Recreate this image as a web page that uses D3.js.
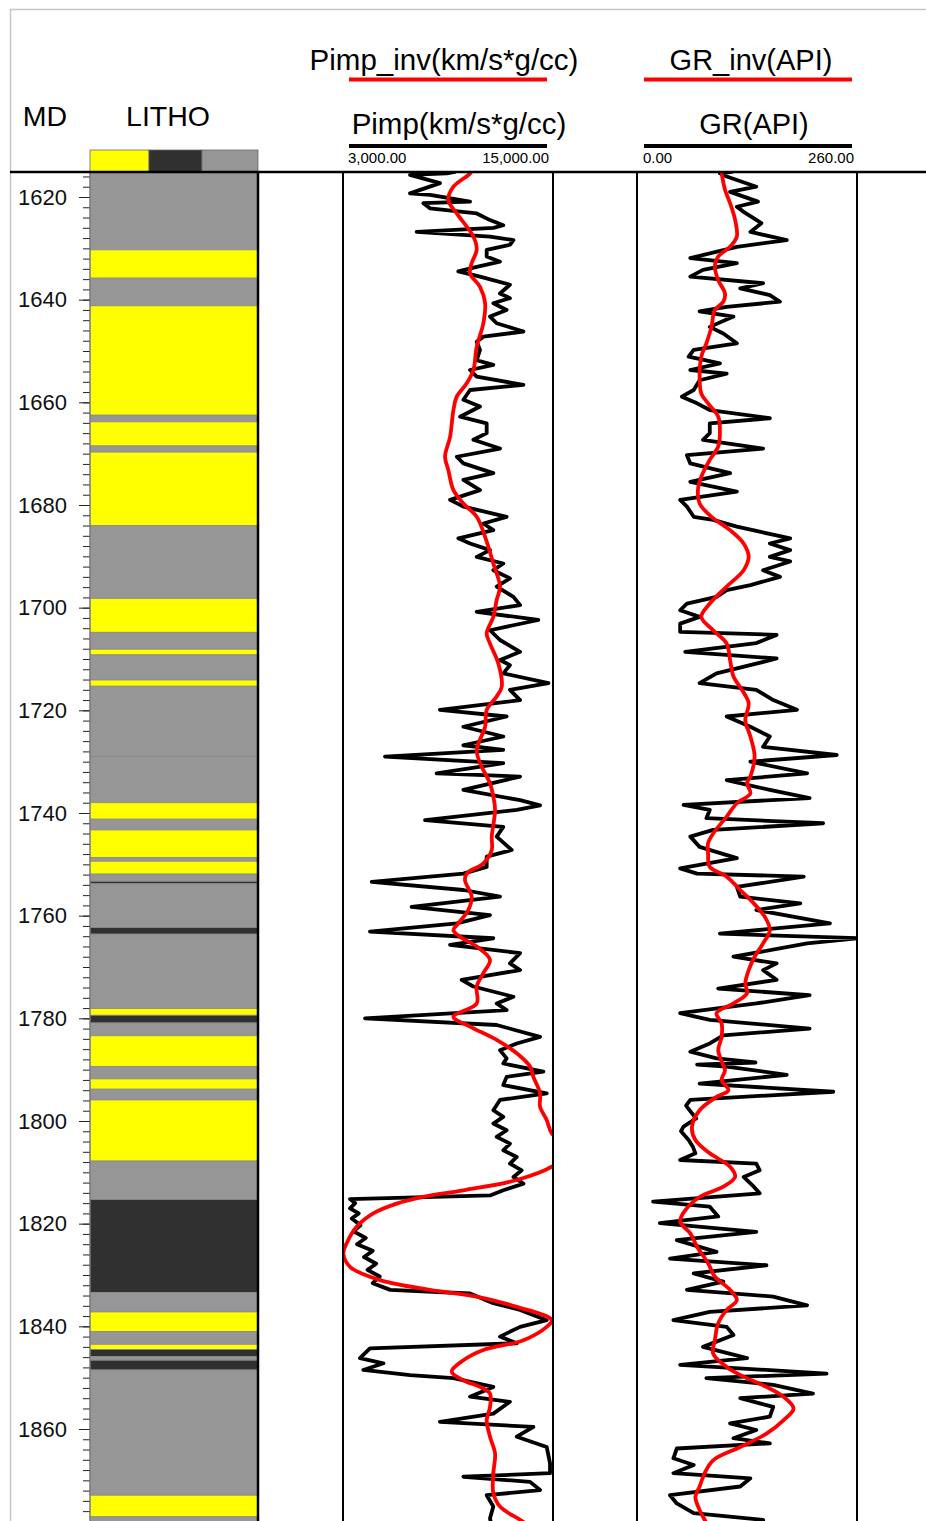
<!DOCTYPE html>
<html>
<head>
<meta charset="utf-8">
<script src="https://cdn.jsdelivr.net/npm/d3@7"></script>
<style>
  body { margin: 0; background: #fff; }
  text { font-family: "Liberation Sans", Arial, sans-serif; }
</style>
</head>
<body>
<svg id="chart" width="926" height="1521"></svg>
<script>
// depth labels (MD, metres)
const mdLabels = [1620, 1640, 1660, 1680, 1700, 1720, 1740, 1760, 1780, 1800, 1820, 1840, 1860];
const mdMinorStep = 2;

// lithology: [top depth, code]  S = sand, H = shale, C = coal
const litho = [
  [1614, "H"], [1630.3, "S"], [1635.8, "H"], [1641.2, "S"], [1662.5, "H"], [1663.8, "S"],
  [1668.5, "H"], [1669.7, "S"], [1684.0, "H"], [1698.2, "S"], [1704.8, "H"], [1708.1, "S"],
  [1709.2, "H"], [1714.1, "S"], [1715.3, "H"], [1729.0, "H"], [1738.0, "S"], [1741.2, "H"],
  [1743.3, "S"], [1748.7, "H"], [1749.4, "S"], [1751.9, "H"], [1753.3, "C"], [1753.8, "H"],
  [1762.3, "C"], [1763.6, "H"], [1778.1, "S"], [1779.4, "C"], [1780.9, "H"], [1783.4, "S"],
  [1789.4, "H"], [1791.8, "S"], [1793.8, "H"], [1795.9, "S"], [1807.8, "H"], [1815.3, "C"],
  [1833.4, "H"], [1837.2, "S"], [1841.0, "H"], [1843.5, "S"], [1844.5, "C"], [1845.9, "H"],
  [1846.6, "C"], [1848.5, "H"], [1872.9, "S"], [1877.1, "H"]
];
const lithoBase = 1880;
const lithoLegend = ["S", "C", "H"];

// P-impedance log [depth, km/s*g/cc]
const pimp = [
  [1615.1, 9400], [1615.4, 8920], [1615.7, 6830], [1617.3, 8540], [1619.3, 6830], [1619.6, 7970],
  [1620.9, 10260], [1621.2, 7590], [1622.2, 7970], [1623.2, 10640], [1624.5, 11400], [1625.5, 12160],
  [1626.0, 11600], [1626.8, 7210], [1627.7, 11400], [1628.4, 12740], [1629.3, 12540], [1630.3, 11210],
  [1631.6, 11210], [1632.6, 11970], [1633.6, 10640], [1634.5, 9590], [1635.5, 10830], [1637.1, 12540],
  [1638.8, 11970], [1639.7, 12540], [1640.7, 11590], [1642.0, 12350], [1643.3, 11400], [1644.6, 11780],
  [1646.2, 13310], [1647.2, 11020], [1648.2, 10640], [1649.8, 10830], [1651.8, 10640], [1652.7, 11590],
  [1653.7, 10260], [1655.0, 10640], [1656.6, 13310], [1657.6, 10260], [1659.5, 9880], [1660.8, 10830],
  [1662.8, 9690], [1664.1, 11210], [1666.0, 11210], [1667.3, 10450], [1669.0, 11970], [1670.6, 9500],
  [1671.9, 9880], [1673.8, 11590], [1675.1, 9880], [1677.1, 10830], [1679.0, 9120], [1680.3, 9880],
  [1682.3, 12350], [1683.6, 11020], [1684.9, 11590], [1686.5, 9590], [1687.5, 10260], [1688.8, 11400],
  [1690.1, 10640], [1691.4, 12160], [1692.7, 11590], [1694.3, 12540], [1695.9, 11780], [1697.9, 12740],
  [1699.5, 13120], [1700.8, 10640], [1702.4, 14160], [1704.4, 11400], [1706.3, 11970], [1708.6, 13120],
  [1710.2, 11970], [1711.2, 12540], [1712.8, 12160], [1714.7, 14740], [1716.0, 12540], [1718.0, 13120],
  [1719.9, 8540], [1721.2, 12350], [1723.2, 9880], [1725.1, 12160], [1726.8, 9880], [1727.7, 12160],
  [1729.0, 5400], [1730.3, 12160], [1732.3, 8350], [1732.9, 13120], [1735.5, 9880], [1737.5, 13120],
  [1738.5, 14260], [1739.4, 12930], [1741.4, 7690], [1742.7, 12160], [1744.6, 11780], [1747.2, 12640],
  [1748.5, 11210], [1750.5, 11210], [1751.8, 9880], [1753.4, 4640], [1755.0, 9880], [1756.3, 11970],
  [1758.3, 6920], [1759.9, 11400], [1761.5, 9500], [1763.1, 4540], [1764.4, 11590], [1765.7, 9120],
  [1767.3, 13120], [1769.3, 12540], [1770.6, 13120], [1772.5, 9780], [1773.8, 10450], [1775.8, 12740],
  [1777.1, 11780], [1778.4, 12350], [1780.0, 4260], [1781.3, 11780], [1783.6, 14260], [1784.9, 12930],
  [1786.2, 11970], [1787.8, 12350], [1788.8, 12160], [1790.4, 14450], [1791.4, 12350], [1793.0, 12160],
  [1794.6, 14640], [1795.9, 11970], [1797.9, 11590], [1799.2, 12160], [1800.5, 11590], [1801.8, 12350],
  [1803.1, 11780], [1804.4, 12540], [1805.7, 12160], [1807.0, 12930], [1808.3, 12540], [1809.6, 13210],
  [1810.9, 12740], [1812.2, 13310], [1813.5, 12160], [1814.5, 11400], [1815.2, 3400], [1816.0, 3700],
  [1817.0, 3400], [1818.0, 3900], [1819.0, 3500], [1820.3, 4000], [1821.5, 3600], [1822.8, 4300],
  [1824.0, 3800], [1825.3, 4700], [1826.5, 4200], [1827.8, 4900], [1829.0, 4400], [1830.3, 5100],
  [1831.6, 4700], [1832.9, 5700], [1833.6, 10260], [1835.5, 11590], [1836.8, 13120], [1838.8, 14640],
  [1840.1, 13120], [1842.0, 11970], [1843.3, 12930], [1844.3, 4540], [1846.2, 3970], [1847.2, 5310],
  [1848.5, 4160], [1849.5, 6830], [1850.1, 9310], [1851.8, 11590], [1853.7, 10260], [1854.7, 12540],
  [1857.0, 11590], [1858.6, 8540], [1859.6, 13880], [1861.5, 12930], [1863.5, 14640], [1866.7, 14830],
  [1868.6, 14830], [1869.3, 9880], [1870.3, 13690], [1871.9, 14260], [1872.9, 11210], [1875.1, 11590],
  [1877.4, 11400], [1879.0, 11500]
];

// inverted P-impedance
const pimpInv = [
  [1614.6, 10400], [1615.4, 10260], [1618.0, 9310], [1620.6, 9020], [1623.2, 9500], [1627.7, 10450],
  [1630.3, 10640], [1632.9, 10350], [1634.9, 10260], [1637.5, 10830], [1640.7, 11120], [1644.6, 11020],
  [1649.2, 10640], [1653.7, 10450], [1656.3, 10070], [1658.9, 9500], [1661.5, 9310], [1666.7, 9120],
  [1670.6, 8830], [1673.2, 9020], [1677.1, 9310], [1679.7, 9880], [1682.3, 10640], [1686.2, 11120],
  [1691.4, 11590], [1695.9, 11970], [1698.5, 11780], [1701.8, 11590], [1705.0, 11210], [1707.0, 11400],
  [1710.9, 11880], [1715.4, 12070], [1717.3, 11780], [1719.9, 11210], [1723.2, 11120], [1727.7, 10640],
  [1730.3, 10830], [1734.2, 11400], [1736.8, 11590], [1739.4, 11690], [1744.6, 11500], [1747.2, 11500],
  [1749.8, 11020], [1751.8, 10070], [1753.1, 9970], [1756.3, 10350], [1758.9, 10160], [1761.5, 9590],
  [1762.8, 9310], [1764.1, 9690], [1766.0, 10640], [1768.6, 11400], [1771.2, 11020], [1773.8, 10640],
  [1777.1, 10640], [1779.7, 9310], [1781.6, 10260], [1784.2, 11780], [1786.8, 12930], [1789.4, 13690],
  [1791.4, 13880], [1794.6, 14260], [1797.2, 14260], [1799.8, 14640], [1802.4, 14930], [1805.7, 16000],
  [1808.9, 14930], [1811.5, 12930], [1813.5, 9880], [1814.8, 7590], [1816.1, 6070], [1818.0, 4730],
  [1820.6, 3780], [1823.8, 3210], [1825.8, 3020], [1828.4, 3400], [1831.0, 5120], [1832.9, 7970],
  [1834.2, 10640], [1836.2, 12930], [1838.8, 14930], [1840.1, 14640], [1842.7, 13310], [1844.6, 11020],
  [1846.6, 9880], [1848.8, 9210], [1850.5, 9880], [1851.8, 10830], [1853.1, 11400], [1855.7, 11400],
  [1858.3, 11210], [1861.5, 11400], [1864.8, 11690], [1868.6, 11590], [1872.5, 11590], [1875.1, 11970],
  [1877.7, 13120], [1879.0, 13700]
];

// gamma ray log [depth, API]
const gr = [
  [1615.1, 112], [1615.4, 98], [1616.0, 106], [1618.0, 141], [1619.0, 110], [1620.9, 143], [1621.9, 118],
  [1622.9, 126], [1625.1, 147], [1626.8, 134], [1628.4, 177], [1629.7, 118], [1631.9, 63], [1632.9, 118],
  [1634.2, 78], [1635.5, 63], [1636.8, 149], [1637.8, 122], [1639.1, 157], [1640.4, 169], [1641.4, 106],
  [1642.3, 74], [1643.3, 114], [1645.3, 86], [1646.6, 102], [1648.5, 118], [1649.8, 67], [1651.1, 61],
  [1652.4, 98], [1653.7, 63], [1654.4, 106], [1655.7, 74], [1657.6, 67], [1658.9, 53], [1660.2, 71],
  [1661.5, 86], [1663.1, 157], [1664.1, 86], [1666.0, 86], [1667.3, 78], [1669.0, 149], [1670.3, 59],
  [1671.9, 63], [1673.8, 110], [1675.5, 63], [1677.4, 118], [1679.0, 51], [1680.3, 59], [1682.3, 67],
  [1682.9, 90], [1684.2, 118], [1685.2, 145], [1686.5, 181], [1687.5, 157], [1688.8, 181], [1690.1, 157],
  [1691.0, 181], [1692.7, 149], [1694.0, 169], [1695.6, 134], [1696.6, 106], [1697.9, 94], [1699.2, 59],
  [1700.5, 51], [1701.8, 74], [1703.1, 51], [1704.7, 51], [1705.3, 165], [1706.9, 141], [1708.6, 57],
  [1709.9, 165], [1710.9, 141], [1712.8, 94], [1714.7, 74], [1716.0, 141], [1718.0, 161], [1719.9, 189],
  [1721.2, 106], [1723.2, 134], [1725.1, 157], [1727.1, 149], [1728.7, 236], [1730.0, 134], [1732.3, 201],
  [1733.6, 106], [1735.5, 157], [1737.1, 204], [1738.4, 55], [1739.4, 86], [1741.0, 82], [1742.0, 220],
  [1743.3, 90], [1744.6, 63], [1746.6, 74], [1748.8, 118], [1750.8, 51], [1751.8, 71], [1752.4, 197],
  [1754.4, 118], [1756.3, 122], [1757.6, 193], [1758.9, 141], [1761.5, 228], [1763.5, 98], [1764.4, 262],
  [1765.4, 201], [1768.0, 114], [1769.3, 165], [1770.6, 149], [1772.5, 165], [1774.2, 96], [1775.5, 204],
  [1777.1, 141], [1779.0, 51], [1780.3, 86], [1782.0, 204], [1783.3, 102], [1784.9, 86], [1786.5, 63],
  [1787.8, 94], [1788.6, 140], [1789.0, 71], [1789.4, 106], [1791.0, 177], [1792.7, 74], [1794.3, 232],
  [1795.9, 63], [1797.0, 58], [1798.5, 65], [1799.5, 70], [1801.1, 55], [1802.0, 52], [1803.7, 61],
  [1805.0, 66], [1806.3, 69], [1807.6, 51], [1808.3, 141], [1809.6, 145], [1810.9, 126], [1812.8, 138],
  [1814.1, 145], [1815.7, 19], [1816.7, 86], [1818.6, 96], [1819.9, 27], [1821.6, 141], [1823.2, 47],
  [1825.5, 94], [1826.8, 39], [1828.1, 153], [1829.7, 67], [1831.3, 102], [1832.9, 59], [1834.2, 161],
  [1835.9, 201], [1837.2, 86], [1838.8, 43], [1840.1, 106], [1841.7, 114], [1844.0, 78], [1846.2, 130],
  [1847.5, 51], [1849.2, 224], [1850.1, 82], [1851.4, 161], [1853.1, 208], [1854.0, 122], [1855.7, 161],
  [1857.6, 157], [1858.9, 110], [1860.2, 141], [1861.8, 114], [1862.8, 157], [1863.8, 47], [1865.7, 43],
  [1867.0, 67], [1868.6, 43], [1869.6, 134], [1871.2, 122], [1872.9, 39], [1874.5, 47], [1876.4, 67],
  [1877.7, 149], [1879.0, 150]
];

// inverted gamma ray
const grInv = [
  [1614.6, 99], [1615.4, 100], [1618.6, 104], [1621.2, 110], [1624.5, 116], [1627.7, 118], [1629.7, 110],
  [1631.6, 96], [1633.6, 92], [1636.2, 96], [1638.8, 104], [1640.4, 102], [1642.0, 92], [1645.3, 88],
  [1648.5, 82], [1651.1, 76], [1655.0, 74], [1658.3, 76], [1660.2, 84], [1662.8, 96], [1666.0, 98],
  [1668.6, 96], [1671.2, 86], [1674.5, 76], [1677.1, 72], [1679.7, 74], [1682.3, 88], [1684.9, 110],
  [1687.5, 126], [1690.1, 132], [1692.7, 126], [1695.9, 106], [1699.2, 86], [1701.8, 76], [1704.4, 90],
  [1707.0, 106], [1710.2, 110], [1713.4, 114], [1716.0, 124], [1718.6, 132], [1721.9, 128], [1725.1, 134],
  [1729.0, 139], [1732.9, 134], [1734.2, 130], [1736.2, 134], [1738.1, 118], [1740.7, 106], [1744.0, 90],
  [1745.9, 84], [1747.9, 84], [1750.5, 86], [1752.4, 106], [1755.0, 122], [1757.6, 138], [1760.2, 151],
  [1762.8, 157], [1765.4, 149], [1768.0, 139], [1770.6, 132], [1773.2, 128], [1775.1, 130], [1777.1, 114],
  [1779.0, 94], [1781.0, 100], [1783.6, 100], [1786.2, 96], [1788.4, 100], [1790.1, 104], [1792.0, 100],
  [1794.0, 108], [1795.3, 94], [1797.9, 74], [1801.1, 65], [1803.7, 69], [1806.3, 86], [1808.9, 110],
  [1810.9, 116], [1812.8, 102], [1814.8, 74], [1817.4, 57], [1819.6, 51], [1821.9, 63], [1824.5, 71],
  [1827.7, 84], [1830.3, 92], [1832.9, 110], [1834.9, 118], [1836.8, 106], [1839.4, 96], [1842.7, 92],
  [1845.3, 90], [1847.9, 106], [1849.8, 126], [1851.8, 153], [1853.7, 173], [1856.0, 185], [1858.3, 173],
  [1860.9, 153], [1863.5, 122], [1866.1, 90], [1868.6, 80], [1871.2, 74], [1873.2, 69], [1875.8, 74],
  [1877.7, 80], [1879.0, 84]
];

const pimpRange = [3000, 15000];
const pimpTickLabels = ["3,000.00", "15,000.00"];
const grRange = [0, 260];
const grTickLabels = ["0.00", "260.00"];

const W = 926, H = 1521;
const headerY = 172;
const lithoColor = { S: "#ffff00", H: "#969696", C: "#303030" };

const svg = d3.select("#chart");
const y = d3.scaleLinear().domain([1620, 1860]).range([197, 1429]);

// outer frame
svg.append("line").attr("x1", 10).attr("x2", W).attr("y1", 9.5).attr("y2", 9.5)
  .attr("stroke", "#c6c6c6").attr("stroke-width", 1.5);
svg.append("line").attr("x1", 10.5).attr("x2", 10.5).attr("y1", 9).attr("y2", H)
  .attr("stroke", "#c6c6c6").attr("stroke-width", 1.5);

// ---- lithology track
const lithoG = svg.append("g");
lithoG.selectAll("rect.bed")
  .data(litho)
  .enter()
  .append("rect")
  .attr("class", "bed")
  .attr("x", 90)
  .attr("width", 168)
  .attr("y", (d) => Math.max(headerY, y(d[0])))
  .attr("height", (d, i) => {
    const base = i < litho.length - 1 ? litho[i + 1][0] : lithoBase;
    return y(base) - Math.max(headerY, y(d[0]));
  })
  .attr("fill", (d) => lithoColor[d[1]])
  .attr("stroke", "#8a8a8a")
  .attr("stroke-width", 0.8);

svg.append("line").attr("x1", 258).attr("x2", 258).attr("y1", headerY).attr("y2", H)
  .attr("stroke", "#000").attr("stroke-width", 2.5);

// legend swatches above the track
const swatchW = [59, 53, 56];
let sx = 90;
lithoLegend.forEach((c, i) => {
  svg.append("rect").attr("x", sx).attr("y", 150).attr("width", swatchW[i]).attr("height", 22)
    .attr("fill", lithoColor[c]).attr("stroke", "#6a6a6a").attr("stroke-width", 0.8);
  sx += swatchW[i];
});

// ---- depth axis
const minorTicks = d3.range(mdLabels[0] - 4, lithoBase, mdMinorStep);
const minorAxis = svg.append("g").attr("transform", "translate(90,0)")
  .call(d3.axisLeft(y).tickValues(minorTicks).tickSize(7).tickFormat(""));
minorAxis.select(".domain").remove();
minorAxis.selectAll("line").attr("stroke", "#222");

const majorAxis = svg.append("g").attr("transform", "translate(90,0)")
  .call(d3.axisLeft(y).tickValues(mdLabels).tickSize(11).tickPadding(12).tickFormat(d3.format("d")));
majorAxis.select(".domain").remove();
majorAxis.selectAll("line").attr("stroke", "#222");
majorAxis.selectAll("text")
  .attr("font-family", "Liberation Sans, Arial, sans-serif")
  .attr("font-size", 22)
  .attr("fill", "#111");

svg.append("line").attr("x1", 90).attr("x2", 90).attr("y1", headerY).attr("y2", H)
  .attr("stroke", "#777").attr("stroke-width", 1.2);

// ---- log tracks
function drawTrack(id, x0, x1, domain, bar0, bar1, tickLabels, logData, invData, title, invTitle, fs, offs) {
  const x = d3.scaleLinear().domain(domain).range([x0, x1]);

  svg.append("clipPath").attr("id", id)
    .append("rect").attr("x", x0).attr("y", headerY).attr("width", x1 - x0).attr("height", H - headerY);

  const line = d3.line().x((d) => x(d[1])).y((d) => y(d[0]));
  const smooth = d3.line().x((d) => x(d[1])).y((d) => y(d[0])).curve(d3.curveCatmullRom.alpha(0.5));

  const g = svg.append("g").attr("clip-path", `url(#${id})`);
  g.append("path").datum(logData).attr("d", line)
    .attr("fill", "none").attr("stroke", "#000").attr("stroke-width", 3.8)
    .attr("stroke-linejoin", "round").attr("stroke-linecap", "round");
  g.append("path").datum(invData).attr("d", smooth)
    .attr("fill", "none").attr("stroke", "#ff0000").attr("stroke-width", 3.8);

  [x0, x1].forEach((xx) => {
    svg.append("line").attr("x1", xx).attr("x2", xx).attr("y1", headerY).attr("y2", H)
      .attr("stroke", "#000").attr("stroke-width", 2);
  });

  // header
  const cx = (bar0 + bar1) / 2;
  svg.append("text").attr("x", cx + offs[0]).attr("y", 70).attr("text-anchor", "middle")
    .attr("font-size", fs).text(invTitle);
  svg.append("line").attr("x1", bar0).attr("x2", bar1).attr("y1", 79.5).attr("y2", 79.5)
    .attr("stroke", "#ff0000").attr("stroke-width", 4);
  svg.append("text").attr("x", cx + offs[1]).attr("y", 134).attr("text-anchor", "middle")
    .attr("font-size", fs).text(title);
  svg.append("line").attr("x1", bar0).attr("x2", bar1).attr("y1", 146).attr("y2", 146)
    .attr("stroke", "#000").attr("stroke-width", 4);
  svg.append("text").attr("x", bar0 - 1).attr("y", 163).attr("font-size", 15).text(tickLabels[0]);
  svg.append("text").attr("x", bar1 + 2).attr("y", 163).attr("text-anchor", "end")
    .attr("font-size", 15).text(tickLabels[1]);
}

drawTrack("clipPimp", 343, 553, pimpRange, 349, 547, pimpTickLabels, pimp, pimpInv,
  "Pimp(km/s*g/cc)", "Pimp_inv(km/s*g/cc)", 29.5, [-4, 11]);
drawTrack("clipGr", 637, 857, grRange, 644, 852, grTickLabels, gr, grInv,
  "GR(API)", "GR_inv(API)", 29, [3, 6]);

// column titles
svg.append("text").attr("x", 45).attr("y", 126).attr("text-anchor", "middle").attr("font-size", 28.5).text("MD");
svg.append("text").attr("x", 168).attr("y", 126).attr("text-anchor", "middle").attr("font-size", 28.5).text("LITHO");

// header rule
svg.append("line").attr("x1", 10).attr("x2", W).attr("y1", headerY).attr("y2", headerY)
  .attr("stroke", "#000").attr("stroke-width", 2.5);
</script>
</body>
</html>
